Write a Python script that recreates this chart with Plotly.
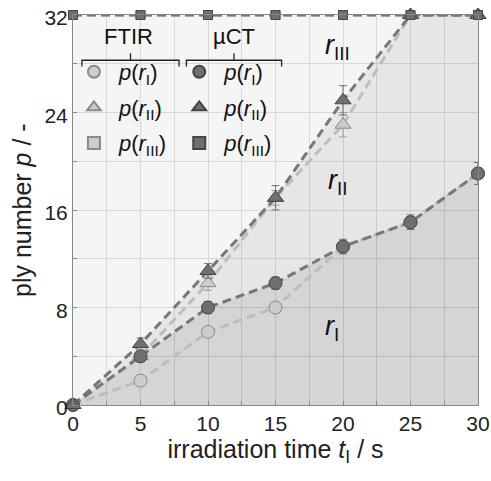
import plotly.graph_objects as go

t = [0, 5, 10, 15, 20, 25, 30]
ftir_r1 = [0, 2, 6, 8, 13, 15, 19]
ftir_r2 = [0, 4, 10, 17, 23, 32, 32]
ftir_r3 = [32, 32, 32, 32, 32, 32, 32]
ct_r1 = [0, 4, 8, 10, 13, 15, 19]
ct_r2 = [0, 5, 11, 17, 25, 32, 32]
ct_r3 = [32, 32, 32, 32, 32, 32, 32]
ct_r1_err = [0, 0.3, 0.5, 0.5, 0.6, 0.6, 0.9]
ct_r2_err = [0, 0.5, 0.6, 1.0, 1.2, 0, 0]
ftir_r2_err = [0, 0.5, 0.6, 0.6, 1.0, 0, 0]

DARK = "#6f6f6f"
DARK_LINE = "#777777"
DARK_EDGE = "#444444"
LIGHT = "#cccccc"
LIGHT_LINE = "#bdbdbd"
LIGHT_EDGE = "#8a8a8a"
FONT = "Liberation Sans, Arial, sans-serif"
DASH = "9px,5px"

fig = go.Figure()

# region fills (semi-transparent so the grid shows through)
fig.add_trace(go.Scatter(x=t, y=ct_r1, mode="lines", line=dict(width=0),
                         fill="tozeroy", fillcolor="rgba(0,0,0,0.13)", showlegend=False, hoverinfo="skip"))
fig.add_trace(go.Scatter(x=t, y=ct_r2, mode="lines", line=dict(width=0),
                         fill="tonexty", fillcolor="rgba(0,0,0,0.06)", showlegend=False, hoverinfo="skip"))

# dashed lines
for y, c in [(ftir_r1, LIGHT_LINE), (ftir_r2, LIGHT_LINE), (ftir_r3, LIGHT_LINE),
             (ct_r1, DARK_LINE), (ct_r2, DARK_LINE), (ct_r3, DARK_LINE)]:
    fig.add_trace(go.Scatter(x=t, y=y, mode="lines", line=dict(color=c, width=3, dash=DASH),
                             showlegend=False, hoverinfo="skip", cliponaxis=False))

def sub(r):
    return "<i>p</i>(<i>r</i><sub>%s</sub>)" % r

series = [
    ("legend", "f1", ftir_r1, None, "circle", 13, LIGHT, LIGHT_EDGE, "#a0a0a0", sub("I")),
    ("legend", "f2", ftir_r2, ftir_r2_err, "triangle-up", 14, LIGHT, LIGHT_EDGE, "#a0a0a0", sub("II")),
    ("legend", "f3", ftir_r3, None, "square", 9, LIGHT, LIGHT_EDGE, "#a0a0a0", sub("III")),
    ("legend2", "c1", ct_r1, ct_r1_err, "circle", 13, DARK, DARK_EDGE, "#707070", sub("I")),
    ("legend2", "c2", ct_r2, ct_r2_err, "triangle-up", 14, DARK, DARK_EDGE, "#707070", sub("II")),
    ("legend2", "c3", ct_r3, None, "square", 9, DARK, DARK_EDGE, "#707070", sub("III")),
]
for leg, grp, y, err, sym, sz, fc, ec, errc, name in series:
    kw = {}
    if err is not None:
        kw["error_y"] = dict(type="data", array=err, color=errc, thickness=1, width=4)
    fig.add_trace(go.Scatter(x=t, y=y, mode="markers", name=name, legend=leg, legendgroup=grp,
                             marker=dict(symbol=sym, size=sz, color=fc, line=dict(color=ec, width=1)),
                             cliponaxis=False, **kw))

region_labels = [("III", 19.6, 29.4), ("II", 19.6, 18.3), ("I", 19.2, 6.3)]
for s, x, y in region_labels:
    fig.add_annotation(x=x, y=y, text="<i>r</i><sub>%s</sub>" % s, showarrow=False,
                       font=dict(family=FONT, size=27, color="#111111"))

# legend headers
for txt, xp in [("FTIR", 0.136), ("µCT", 0.397)]:
    fig.add_annotation(xref="paper", yref="paper", x=xp, y=0.944, text=txt, showarrow=False,
                       yanchor="middle", xanchor="center",
                       font=dict(family=FONT, size=22, color="#111111"))

# y axis title placed close to the tick labels
fig.add_annotation(xref="paper", yref="paper", x=0, y=0.5, xshift=-51, textangle=-90,
                   text="ply number <i>p</i> / -", showarrow=False,
                   xanchor="center", yanchor="middle",
                   font=dict(family=FONT, size=25, color="#222222"))

leg_common = dict(bgcolor="rgba(0,0,0,0)", borderwidth=0, itemsizing="constant",
                  font=dict(family=FONT, size=22, color="#111111"),
                  yanchor="top", xanchor="left", tracegroupgap=4, traceorder="grouped",
                  itemwidth=40)
fig.update_layout(
    legend=dict(x=-0.01, y=0.908, **leg_common),
    legend2=dict(x=0.25, y=0.908, **leg_common),
)

# brackets under legend titles
for x0, x1 in [(0.022, 0.262), (0.280, 0.515)]:
    xm = (x0 + x1) / 2
    yb = 0.884
    fig.add_shape(type="path", xref="paper", yref="paper",
                  path=f"M {x0},{yb-0.016} L {x0},{yb} L {x1},{yb} L {x1},{yb-0.016} M {xm},{yb} L {xm},{yb+0.018}",
                  line=dict(color="#222222", width=1.3))

fig.update_layout(
    width=491, height=481,
    margin=dict(l=73, r=13, t=15, b=76),
    paper_bgcolor="white",
    plot_bgcolor="#f5f5f5",
    font=dict(family=FONT, size=21, color="#222222"),
    xaxis=dict(range=[0, 30], tickvals=[0, 5, 10, 15, 20, 25, 30], showgrid=True,
               gridcolor="#d8d8d8", gridwidth=1, automargin=False, ticklabeloverflow="allow",
               minor=dict(dtick=2.5, showgrid=True, gridcolor="#d8d8d8", ticks="inside", ticklen=4, tickcolor="#888"),
               ticks="inside", ticklen=4, tickcolor="#888",
               showline=True, linecolor="#888888", mirror=True, zeroline=False,
               tickfont=dict(size=21),
               title=dict(text="irradiation time <i>t</i><sub>I</sub> / s", font=dict(size=25), standoff=6)),
    yaxis=dict(range=[0, 32], tickvals=[0, 8, 16, 24, 32], showgrid=True,
               gridcolor="#d8d8d8", automargin=False, ticklabeloverflow="allow",
               minor=dict(dtick=4, showgrid=True, gridcolor="#d8d8d8", ticks="inside", ticklen=4, tickcolor="#888"),
               ticks="inside", ticklen=4, tickcolor="#888",
               showline=True, linecolor="#888888", mirror=True, zeroline=False,
               ticklabelshift=3,
               tickfont=dict(size=21)),
)

fig.write_html("out.html", config={"displayModeBar": False},
               post_script="document.body.style.margin='0px';")
